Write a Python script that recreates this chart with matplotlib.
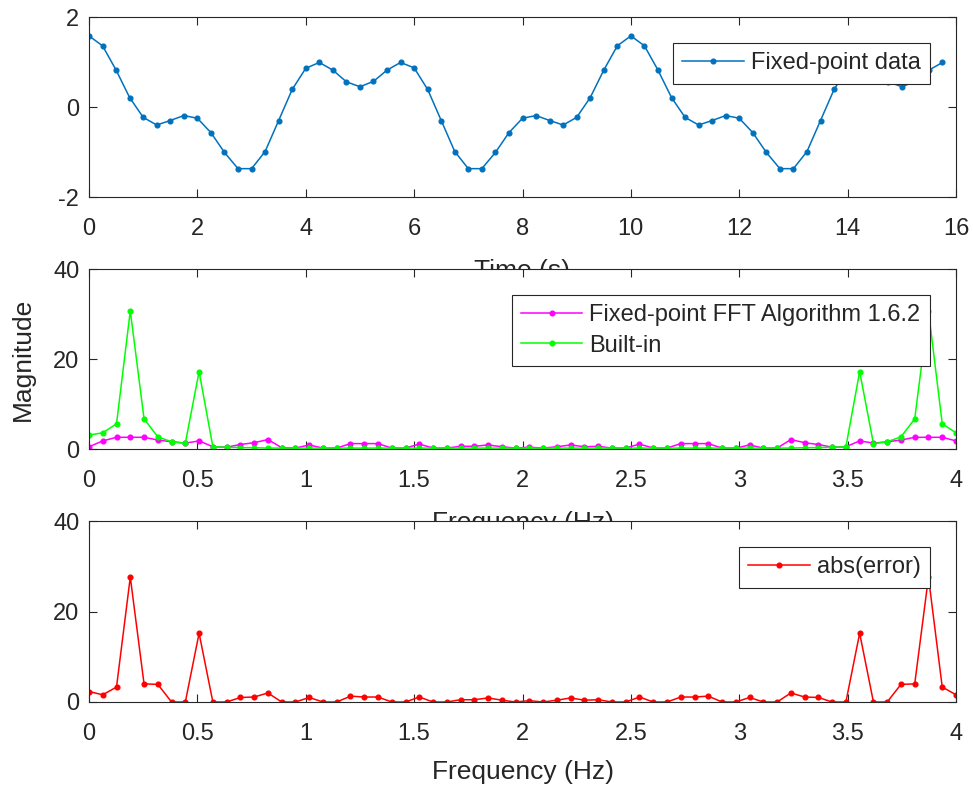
import numpy as np
import matplotlib
matplotlib.use('Agg')
import matplotlib.pyplot as plt

plt.rcParams['font.family'] = ['Liberation Sans', 'DejaVu Sans']
plt.rcParams['axes.unicode_minus'] = False

# time-domain samples (fixed-point data)
t = np.arange(64) * 0.25
signal = [1.58, 1.36, 0.82, 0.21, -0.23, -0.40, -0.30, -0.19, -0.25, -0.57,
          -1.01, -1.37, -1.37, -0.99, -0.30, 0.39, 0.86, 0.99, 0.82, 0.56,
          0.45, 0.57, 0.82, 0.99, 0.87, 0.39, -0.30, -0.99, -1.37, -1.37,
          -1.01, -0.57, -0.25, -0.19, -0.30, -0.40, -0.23, 0.21, 0.82, 1.36,
          1.58, 1.36, 0.82, 0.21, -0.23, -0.40, -0.30, -0.19, -0.25, -0.57,
          -1.01, -1.37, -1.37, -0.99, -0.30, 0.39, 0.86, 0.99, 0.82, 0.56,
          0.45, 0.57, 0.82, 0.99]

# frequency axis
freq = np.linspace(0, 4, 64)

fixed_fft = [0.5, 1.8, 2.6, 2.6, 2.6, 2.0, 1.6, 1.3, 1.8, 0.5,
             0.4, 1.0, 1.4, 2.1, 0.3, 0.2, 0.9, 0.2, 0.2, 1.2,
             1.2, 1.2, 0.2, 0.2, 1.1, 0.2, 0.2, 0.6, 0.6, 0.9,
             0.5, 0.2, 0.4, 0.2, 0.5, 0.9, 0.5, 0.6, 0.2, 0.2,
             1.1, 0.2, 0.2, 1.2, 1.2, 1.2, 0.2, 0.2, 0.9, 0.2,
             0.2, 2.1, 1.4, 1.0, 0.4, 0.5, 1.8, 1.3, 1.6, 2.0,
             2.6, 2.6, 2.6, 1.8]

builtin_fft = [3.1, 3.6, 5.6, 30.7, 6.7, 2.7, 1.6, 1.3, 17.2, 0.5,
               0.4, 0.3, 0.3, 0.2, 0.2, 0.2, 0.2, 0.2, 0.2, 0.2,
               0.2, 0.2, 0.2, 0.2, 0.2, 0.2, 0.2, 0.2, 0.2, 0.2,
               0.2, 0.2, 0.2, 0.2, 0.2, 0.2, 0.2, 0.2, 0.2, 0.2,
               0.2, 0.2, 0.2, 0.2, 0.2, 0.2, 0.2, 0.2, 0.2, 0.2,
               0.2, 0.2, 0.3, 0.3, 0.4, 0.5, 17.2, 1.2, 1.6, 2.7,
               6.7, 30.7, 5.6, 3.6]

abs_error = [2.3, 1.6, 3.3, 27.6, 4.0, 3.9, 0.0, 0.0, 15.2, 0.0,
             0.0, 1.0, 1.1, 2.0, 0.0, 0.0, 1.0, 0.0, 0.0, 1.3,
             1.1, 1.1, 0.0, 0.0, 1.1, 0.0, 0.0, 0.5, 0.5, 0.9,
             0.4, 0.0, 0.3, 0.0, 0.4, 0.9, 0.4, 0.5, 0.0, 0.0,
             1.1, 0.0, 0.0, 1.1, 1.1, 1.3, 0.0, 0.0, 1.0, 0.0,
             0.0, 2.0, 1.1, 1.0, 0.0, 0.0, 15.2, 0.0, 0.0, 3.9,
             4.0, 27.6, 3.3, 1.6]

W, H = 973, 789
fig = plt.figure(figsize=(W / 100, H / 100), dpi=100)

dark = '#262626'
tick_fs = 17
label_fs = 19


def make_axes(top_px, bottom_px):
    left, right = 89, 956
    ax = fig.add_axes([left / W, 1 - bottom_px / H, (right - left) / W, (bottom_px - top_px) / H])
    for s in ax.spines.values():
        s.set_color(dark)
        s.set_linewidth(0.8)
    ax.tick_params(direction='in', top=True, right=True, length=6, width=0.8,
                   colors=dark, labelsize=tick_fs, labelcolor=dark)
    ax.tick_params(axis='x', pad=15)
    ax.tick_params(axis='y', pad=7)
    return ax


def style_legend(ax, anchor_y):
    leg = ax.legend(loc='upper right', bbox_to_anchor=(930 / W, 1 - anchor_y / H),
                    bbox_transform=fig.transFigure, fontsize=tick_fs, fancybox=False,
                    framealpha=1, edgecolor=dark, borderaxespad=0, handlelength=2.6,
                    handletextpad=0.3, borderpad=0.4, labelspacing=0.35)
    leg.get_frame().set_linewidth(0.8)
    for txt in leg.get_texts():
        txt.set_color(dark)
    return leg


ax1 = make_axes(17, 197)
ax1.plot(t, signal, '-o', color='#0072BD', lw=1.1, markersize=3.4, label='Fixed-point data')
ax1.set_xlim(0, 16)
ax1.set_ylim(-2, 2)
ax1.set_xticks(np.arange(0, 17, 2))
ax1.set_yticks([-2, 0, 2])
ax1.set_xlabel('Time (s)', fontsize=label_fs, color=dark, labelpad=14)
style_legend(ax1, 43)

ax2 = make_axes(269, 449)
ax2.plot(freq, fixed_fft, '-o', color='#FF00FF', lw=1.1, markersize=3.4,
         label='Fixed-point FFT Algorithm 1.6.2')
ax2.plot(freq, builtin_fft, '-o', color='#00FF00', lw=1.1, markersize=3.4, label='Built-in')
ax2.set_xlim(0, 4)
ax2.set_ylim(0, 40)
ax2.set_xticks(np.arange(0, 4.01, 0.5))
ax2.set_xticklabels(['0', '0.5', '1', '1.5', '2', '2.5', '3', '3.5', '4'])
ax2.set_yticks([0, 20, 40])
ax2.set_xlabel('Frequency (Hz)', fontsize=label_fs, color=dark, labelpad=14)
ax2.set_ylabel('Magnitude', fontsize=label_fs, color=dark, labelpad=13)
style_legend(ax2, 295)

ax3 = make_axes(521, 702)
ax3.plot(freq, abs_error, '-o', color='#FF0000', lw=1.1, markersize=3.4, label='abs(error)')
ax3.set_xlim(0, 4)
ax3.set_ylim(0, 40)
ax3.set_xticks(np.arange(0, 4.01, 0.5))
ax3.set_xticklabels(['0', '0.5', '1', '1.5', '2', '2.5', '3', '3.5', '4'])
ax3.set_yticks([0, 20, 40])
ax3.set_xlabel('Frequency (Hz)', fontsize=label_fs, color=dark, labelpad=11)
style_legend(ax3, 547)

fig.savefig('out.png', dpi=100)
